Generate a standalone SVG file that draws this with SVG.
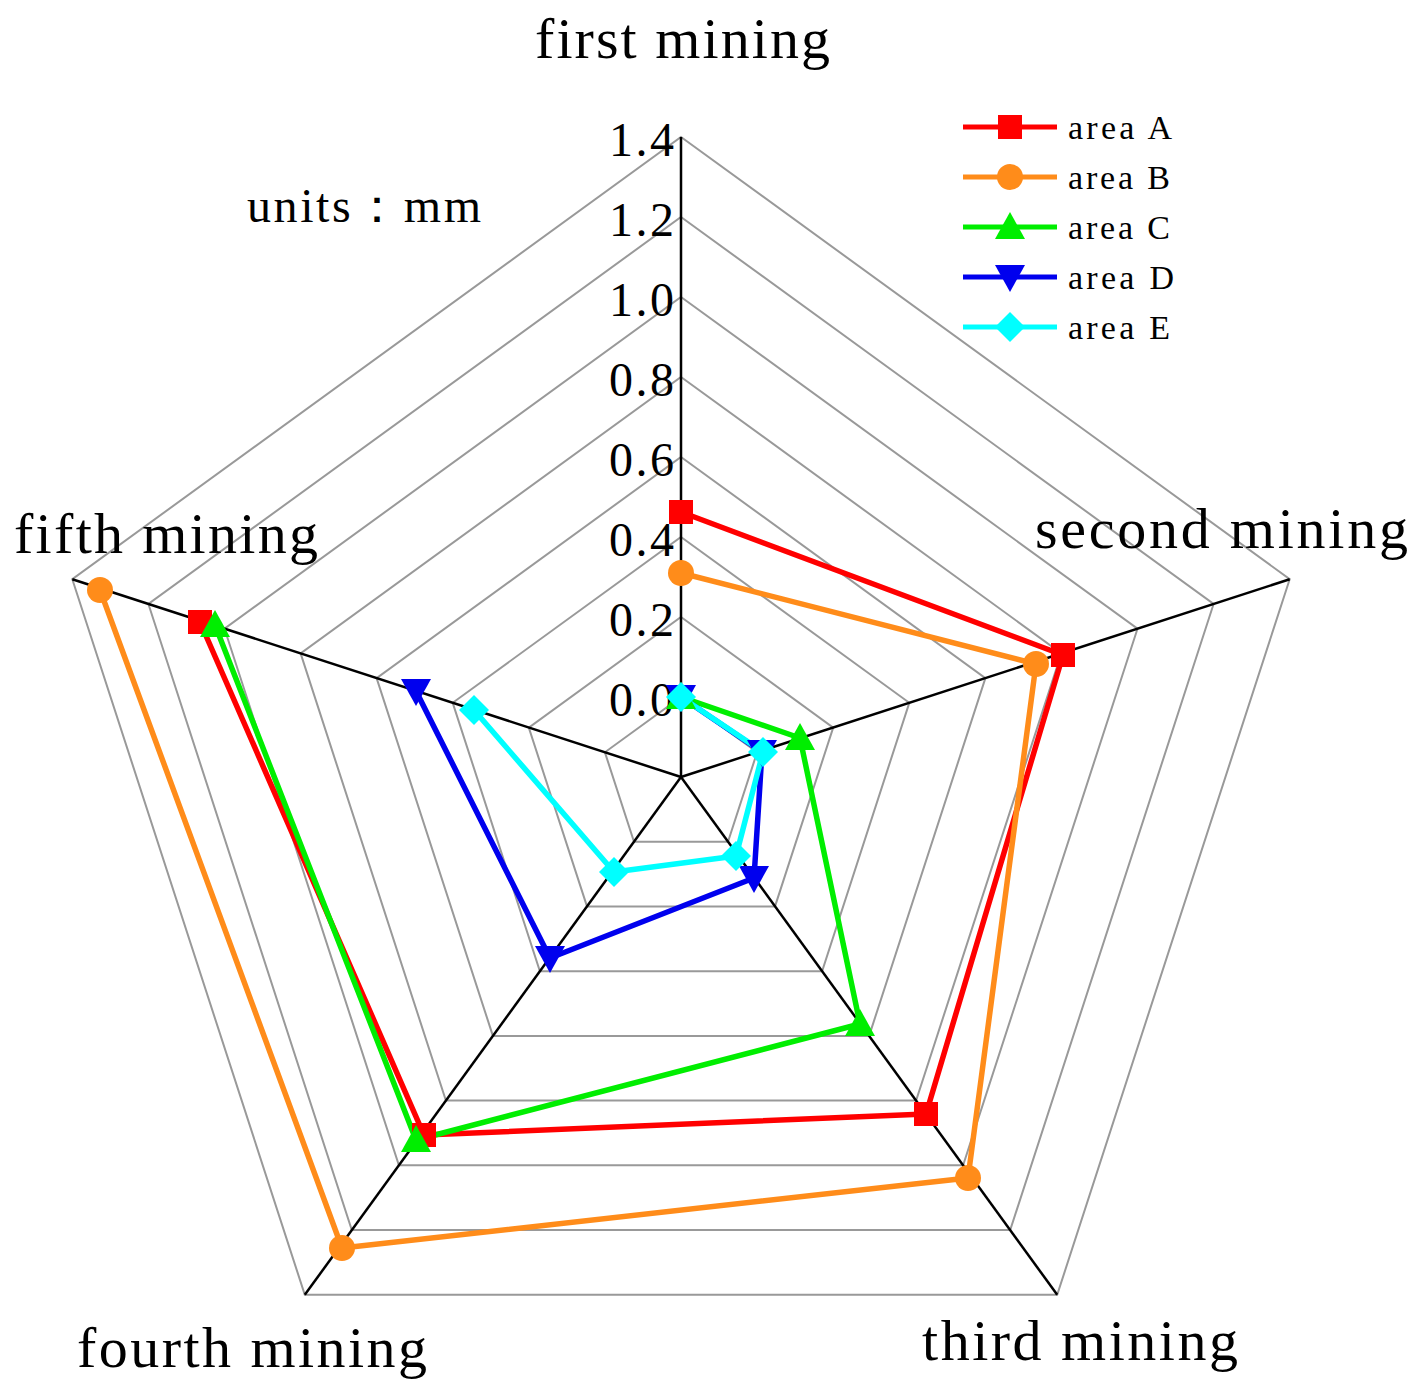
<svg xmlns="http://www.w3.org/2000/svg" xmlns:xlink="http://www.w3.org/1999/xlink" width="1419" height="1395" viewBox="0 0 1419 1395">
<style>
.g{fill:none;stroke:#999;stroke-width:2}
.ax{stroke:#000;stroke-width:2.5}
.t{font-family:"Liberation Serif",serif;fill:#000}
.s{fill:none;stroke-width:5.5;stroke-linejoin:round}
</style>
<defs>
<rect id="mA" x="-12" y="-12" width="24" height="24" fill="#ff0000"/>
<circle id="mB" r="13" fill="#ff8c1a"/>
<polygon id="mC" points="0,-15 15,12 -15,12" fill="#00ee00"/>
<polygon id="mD" points="0,15 15,-12 -15,-12" fill="#0000ee"/>
<polygon id="mE" points="0,-15 15,0 0,15 -15,0" fill="#00ffff"/>
</defs>
<rect width="1419" height="1395" fill="#fff"/>
<g id="grid">
<polygon class="g" points="681,697 757.1,752.3 728,841.7 634,841.7 604.9,752.3"/>
<polygon class="g" points="681,617 833.2,727.6 775,906.4 587,906.4 528.8,727.6"/>
<polygon class="g" points="681,537 909.3,702.8 822.1,971.2 539.9,971.2 452.7,702.8"/>
<polygon class="g" points="681,457 985.4,678.1 869.1,1035.9 492.9,1035.9 376.6,678.1"/>
<polygon class="g" points="681,377 1061.4,653.4 916.1,1100.6 445.9,1100.6 300.6,653.4"/>
<polygon class="g" points="681,297 1137.5,628.7 963.1,1165.3 398.9,1165.3 224.5,628.7"/>
<polygon class="g" points="681,217 1213.6,604 1010.2,1230 351.8,1230 148.4,604"/>
<polygon class="g" points="681,137 1289.7,579.2 1057.2,1294.8 304.8,1294.8 72.3,579.2"/>
<line class="ax" x1="681" y1="777" x2="681" y2="137"/>
<line class="ax" x1="681" y1="777" x2="1289.7" y2="579.2"/>
<line class="ax" x1="681" y1="777" x2="1057.2" y2="1294.8"/>
<line class="ax" x1="681" y1="777" x2="304.8" y2="1294.8"/>
<line class="ax" x1="681" y1="777" x2="72.3" y2="579.2"/>
</g>
<g class="t" font-size="48" text-anchor="end">
<text x="674" y="156" textLength="65">1.4</text><text x="674" y="236" textLength="65">1.2</text><text x="674" y="316" textLength="65">1.0</text>
<text x="674" y="396" textLength="65">0.8</text><text x="674" y="476" textLength="65">0.6</text><text x="674" y="556" textLength="65">0.4</text>
<text x="674" y="636" textLength="65">0.2</text><text x="674" y="716" textLength="65">0.0</text>
</g>
<g class="t" font-size="58">
<text id="l1" x="535" y="58" textLength="295">first mining</text>
<text id="l2" x="1035" y="548" textLength="373">second mining</text>
<text id="l3" x="922" y="1360" textLength="316">third mining</text>
<text id="l4" x="77" y="1367" textLength="350">fourth mining</text>
<text id="l5" x="14" y="553" textLength="304">fifth mining</text>
</g>
<text class="t" x="247" y="222" font-size="48" textLength="234">units：mm</text>
<g id="connectors">
<polyline class="s" stroke="#ff0000" points="681,512 1063,655 926,1114 424,1135 200,622"/>
<polyline class="s" stroke="#ff8c1a" points="681,573 1036,664 968,1178 342,1248 100,590"/>
<polyline class="s" stroke="#00ee00" points="681,697 800,738 860,1024 416,1140 215,625"/>
<polyline class="s" stroke="#0000ee" points="681,697 762,752 754,878 550,958 416,691"/>
<polyline class="s" stroke="#00ffff" points="681,697 763,752 736,856 614,872 474,710"/>
</g>
<g id="areaA"><use href="#mA" x="681" y="512"/><use href="#mA" x="1063" y="655"/><use href="#mA" x="926" y="1114"/><use href="#mA" x="424" y="1135"/><use href="#mA" x="200" y="622"/></g>
<g id="areaB"><use href="#mB" x="681" y="573"/><use href="#mB" x="1036" y="664"/><use href="#mB" x="968" y="1178"/><use href="#mB" x="342" y="1248"/><use href="#mB" x="100" y="590"/></g>
<g id="areaC"><use href="#mC" x="681" y="697"/><use href="#mC" x="800" y="738"/><use href="#mC" x="860" y="1024"/><use href="#mC" x="416" y="1140"/><use href="#mC" x="215" y="625"/></g>
<g id="areaD"><use href="#mD" x="681" y="697"/><use href="#mD" x="762" y="752"/><use href="#mD" x="754" y="878"/><use href="#mD" x="550" y="958"/><use href="#mD" x="416" y="691"/></g>
<g id="areaE"><use href="#mE" x="681" y="697"/><use href="#mE" x="763" y="752"/><use href="#mE" x="736" y="856"/><use href="#mE" x="614" y="872"/><use href="#mE" x="474" y="710"/></g>
<g id="legend" class="t" font-size="34">
<line x1="963" y1="127" x2="1057" y2="127" stroke="#ff0000" stroke-width="5"/><use href="#mA" x="1010" y="127"/><text x="1068" y="139" textLength="104">area A</text>
<line x1="963" y1="177" x2="1057" y2="177" stroke="#ff8c1a" stroke-width="5"/><use href="#mB" x="1010" y="177"/><text x="1068" y="189" textLength="102">area B</text>
<line x1="963" y1="227" x2="1057" y2="227" stroke="#00ee00" stroke-width="5"/><use href="#mC" x="1010" y="227"/><text x="1068" y="239" textLength="102">area C</text>
<line x1="963" y1="277" x2="1057" y2="277" stroke="#0000ee" stroke-width="5"/><use href="#mD" x="1010" y="277"/><text x="1068" y="289" textLength="106">area D</text>
<line x1="963" y1="327" x2="1057" y2="327" stroke="#00ffff" stroke-width="5"/><use href="#mE" x="1010" y="327"/><text x="1068" y="339" textLength="102">area E</text>
</g>
</svg>
